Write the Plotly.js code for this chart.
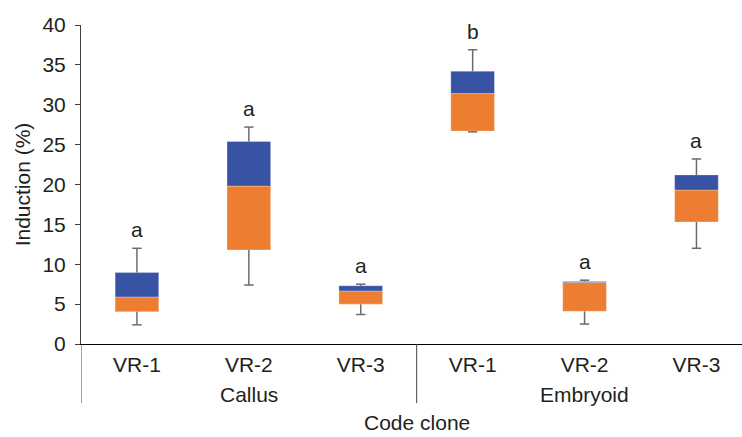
<!DOCTYPE html>
<html>
<head>
<meta charset="utf-8">
<script src="https://cdn.plot.ly/plotly-3.0.1.min.js"></script>
<style>html,body{margin:0;padding:0;background:#fff;}#chart{width:742px;height:437px;}</style>
</head>
<body>
<div id="chart"></div>
<script>
// ---- data ----
const clones = ["VR-1", "VR-2", "VR-3", "VR-1", "VR-2", "VR-3"];
const groups = ["Callus", "Embryoid"];
const groupOf = [0, 0, 0, 1, 1, 1];
const minVal = [2.4, 7.4, 3.7, 26.6, 2.5, 12.0];
const q1Val = [4.05, 11.8, 5.0, 26.7, 4.1, 15.3];
const medVal = [5.9, 19.8, 6.65, 31.4, 7.7, 19.3];
const q3Val = [8.95, 25.4, 7.3, 34.2, 7.85, 21.2];
const maxVal = [12.0, 27.2, 7.5, 36.9, 8.0, 23.2];
const letters = ["a", "a", "a", "b", "a", "a"];

// ---- styling ----
const FONT = "Liberation Sans, Arial, sans-serif";
const FS = 21;
const TXT = "#231f20";
const ORANGE = "#ED7D31";
const BLUE = "#3953A4";
const WHISK = "#6b6b6b";
const capHalf = 0.042;

const idx = clones.map((_, i) => i);

const lowerBox = {
  type: "bar", x: idx, base: q1Val, y: medVal.map((m, i) => m - q1Val[i]),
  width: 0.39, marker: {color: ORANGE, line: {color: "rgba(255,255,255,0.35)", width: 0.8}},
  hoverinfo: "skip", showlegend: false
};
const upperBox = {
  type: "bar", x: idx, base: medVal, y: q3Val.map((q, i) => q - medVal[i]),
  width: 0.39, marker: {color: BLUE, line: {color: "rgba(255,255,255,0.35)", width: 0.8}},
  hoverinfo: "skip", showlegend: false
};

const wx = [], wy = [];
idx.forEach(i => {
  wx.push(i, i, null); wy.push(q3Val[i], maxVal[i], null);
  wx.push(i - capHalf, i + capHalf, null); wy.push(maxVal[i], maxVal[i], null);
  wx.push(i, i, null); wy.push(q1Val[i], minVal[i], null);
  wx.push(i - capHalf, i + capHalf, null); wy.push(minVal[i], minVal[i], null);
});
const whiskers = {
  type: "scatter", mode: "lines", x: wx, y: wy, connectgaps: false,
  line: {color: WHISK, width: 1.5}, hoverinfo: "skip", showlegend: false
};

const annotations = [];
idx.forEach(i => {
  annotations.push({
    x: i, y: maxVal[i], xref: "x", yref: "y", text: letters[i], showarrow: false,
    yanchor: "bottom", yshift: 5, font: {family: FONT, size: FS, color: TXT}
  });
});
groups.forEach((g, gi) => {
  const members = idx.filter(i => groupOf[i] === gi);
  const center = (members[0] + members[members.length - 1]) / 2;
  annotations.push({
    x: center, y: -0.157, xref: "x", yref: "paper", text: g, showarrow: false,
    yanchor: "middle", font: {family: FONT, size: FS, color: TXT}
  });
});
annotations.push({
  x: (idx[0] + idx[idx.length - 1]) / 2, y: -0.289, xref: "x", yref: "paper",
  text: "Code clone", showarrow: false, yanchor: "bottom",
  font: {family: FONT, size: FS, color: TXT}
});

const shapes = [
  {type: "line", xref: "x", yref: "paper", x0: -0.5, x1: -0.5, y0: 0, y1: -0.185,
   line: {color: "#404040", width: 1}},
  {type: "line", xref: "x", yref: "paper", x0: 2.5, x1: 2.5, y0: 0, y1: -0.185,
   line: {color: "#404040", width: 1}}
];

const layout = {
  width: 742, height: 437,
  margin: {l: 81, r: 0, t: 25, b: 93},
  paper_bgcolor: "#fff", plot_bgcolor: "#fff",
  barmode: "overlay", showlegend: false,
  font: {family: FONT, size: FS, color: TXT},
  xaxis: {
    range: [-0.5, 5.407], tickmode: "array", tickvals: idx, ticktext: clones,
    ticks: "", showgrid: false, zeroline: false, showline: true,
    linecolor: "#000", linewidth: 1, tickfont: {family: FONT, size: FS, color: TXT},
    ticklabelstandoff: 2, fixedrange: true
  },
  yaxis: {
    range: [0, 40], dtick: 5, tick0: 0, ticks: "outside", ticklen: 5, tickcolor: "#404040",
    showgrid: false, zeroline: false, showline: true, linecolor: "#404040", linewidth: 1,
    tickfont: {family: FONT, size: FS, color: TXT}, ticklabelstandoff: 5,
    title: {text: "Induction (%)", font: {family: FONT, size: FS, color: TXT}, standoff: 6},
    fixedrange: true
  },
  annotations: annotations,
  shapes: shapes
};

Plotly.newPlot("chart", [lowerBox, upperBox, whiskers], layout, {displayModeBar: false, staticPlot: true});
</script>
</body>
</html>
